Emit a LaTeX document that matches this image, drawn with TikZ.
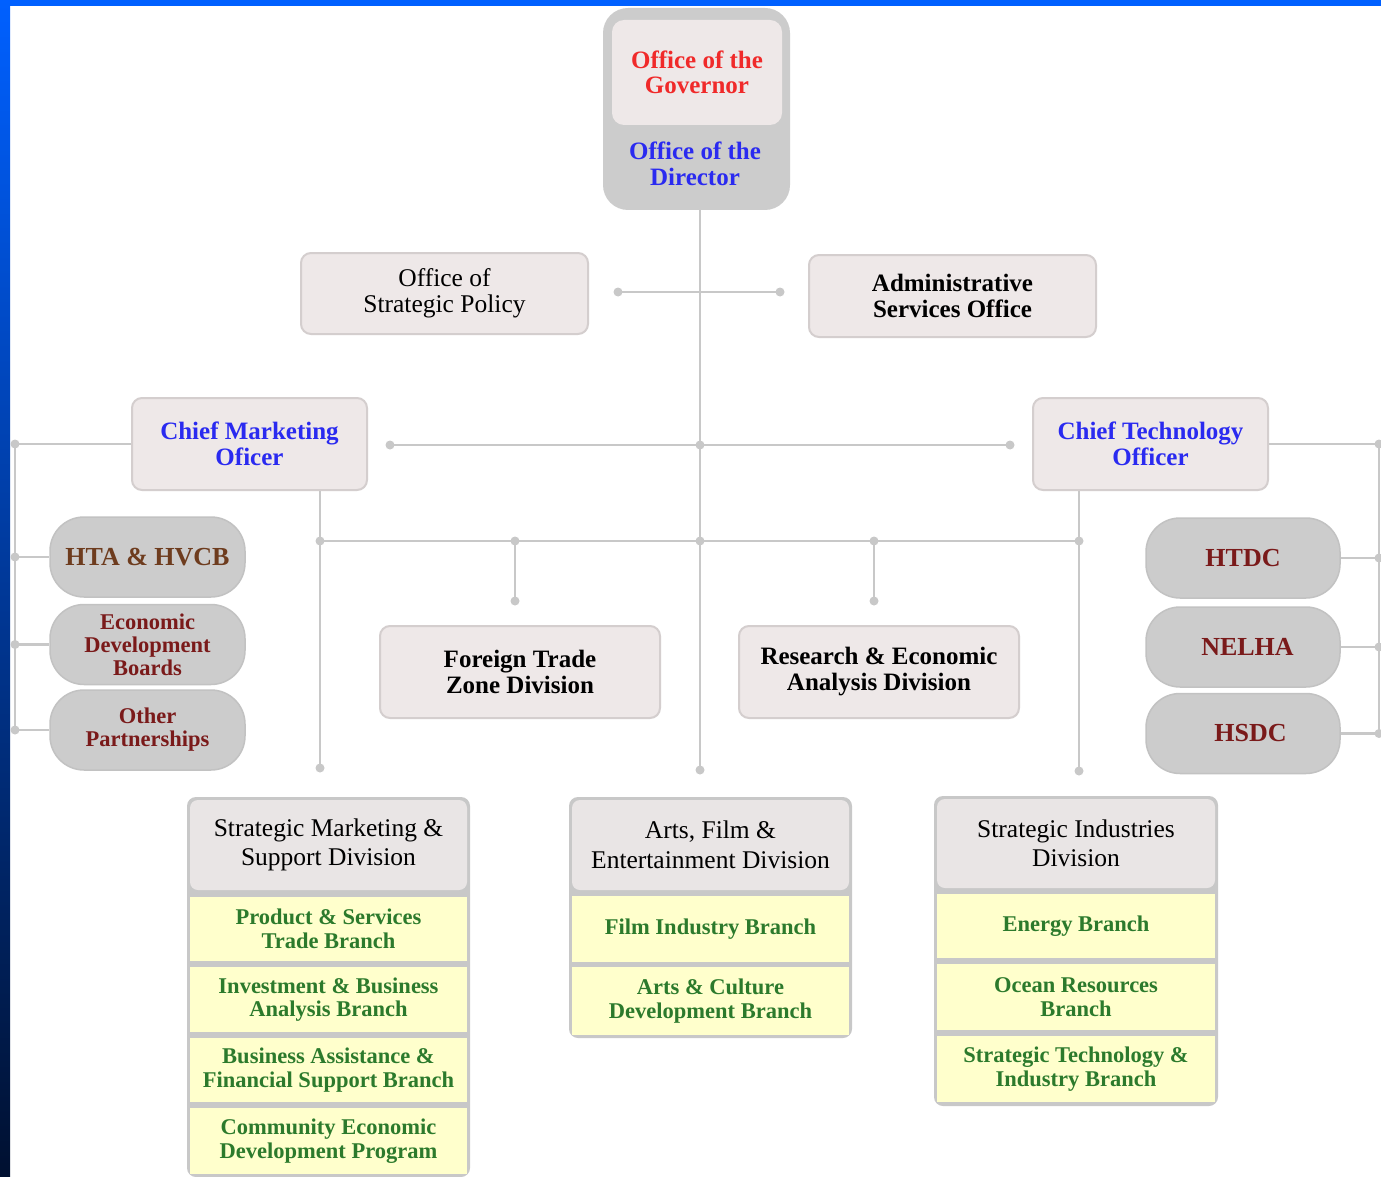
\documentclass[tikz,border=0pt]{standalone}
\usepackage{fontspec}
\setmainfont{Liberation Serif}
\definecolor{topblue}{HTML}{0060FF}
\definecolor{midblue}{HTML}{0038A8}
\definecolor{navyend}{HTML}{001030}
\definecolor{linegray}{HTML}{C8C8C8}
\definecolor{boxfill}{HTML}{EEE8E8}
\definecolor{boxdraw}{HTML}{D4CECE}
\definecolor{pillfill}{HTML}{CCCCCC}
\definecolor{pilldraw}{HTML}{C2C2C2}
\definecolor{rowfill}{HTML}{FFFFCC}
\definecolor{hdrfill}{HTML}{E9E5E5}
\definecolor{govred}{HTML}{F02A2A}
\definecolor{dirblue}{HTML}{2A2AF0}
\definecolor{pillred}{HTML}{7A1A1A}
\definecolor{pillbrown}{HTML}{6E3C1E}
\definecolor{rowgreen}{HTML}{2C7A2C}
\newcommand\fTop{\fontsize{25}{25.5}\selectfont\bfseries}
\newcommand\fMid{\fontsize{25}{26}\selectfont}
\newcommand\fPill{\fontsize{26}{27}\selectfont\bfseries}
\newcommand\fPillS{\fontsize{22.5}{23}\selectfont\bfseries}
\newcommand\fHdr{\fontsize{25.5}{29.5}\selectfont}
\newcommand\fRow{\fontsize{22.5}{23.5}\selectfont\bfseries}
\tikzset{
  lbox/.style={draw=boxdraw, line width=2pt, fill=boxfill, rounded corners=10pt, align=center, inner sep=0pt},
  pill/.style={draw=pilldraw, line width=1.5pt, fill=pillfill, rounded corners=34pt, align=center, inner sep=0pt, minimum height=80pt},
  frame/.style={fill=linegray, rounded corners=9pt, inner sep=0pt},
  hdr/.style={fill=hdrfill, rounded corners=8pt, align=center, inner sep=0pt, font=\fHdr, minimum height=90pt},
  row/.style={fill=rowfill, align=center, inner sep=0pt, font=\fRow, text=rowgreen},
  conn/.style={draw=linegray, line width=2.5pt},
  jdot/.style={fill=linegray}
}
\begin{document}
\begin{tikzpicture}[x=1pt, y=-1pt]
\useasboundingbox (0,0) rectangle (1381,1177);
\fill[white] (0,0) rectangle (1381,1177);
\fill[topblue] (0,0) rectangle (1381,6);
\shade[top color=topblue, middle color=midblue, bottom color=navyend] (0,0) rectangle (10,1177);

% top office
\node[fill=pillfill, rounded corners=25pt, minimum width=187pt, minimum height=202pt, inner sep=0pt] (topbox) at (696.5,109) {};
\node[fill=boxfill, rounded corners=12pt, minimum width=170pt, minimum height=105pt, inner sep=0pt, align=center, text=govred, font=\fTop] (gov) at (697,72.5) {Office of the\\Governor};
\node[align=center, text=dirblue, font=\fTop, inner sep=0pt] (dir) at (695,164) {Office of the\\Director};

% second level
\node[lbox, minimum width=287pt, minimum height=81pt, font=\fontsize{25.5}{26}\selectfont] (osp) at (444.5,293.5) {Office of\\Strategic Policy};
\node[lbox, minimum width=287pt, minimum height=82pt, font=\fMid\bfseries] (aso) at (952.5,296) {Administrative\\Services Office};

\node[lbox, minimum width=235pt, minimum height=92pt, font=\fTop, text=dirblue] (cmo) at (249.5,444) {Chief Marketing\\Oficer};
\node[lbox, minimum width=235pt, minimum height=92pt, font=\fTop, text=dirblue] (cto) at (1150.5,444) {Chief Technology\\Officer};

% pills
\node[pill, minimum width=195pt, font=\fPill, text=pillbrown] (hta) at (147.5,557) {HTA \& HVCB};
\node[pill, minimum width=195pt, font=\fPillS, text=pillred] (edb) at (147.5,644.5) {Economic\\Development\\Boards};
\node[pill, minimum width=195pt, font=\fPillS, text=pillred] (oth) at (147.5,730) {Other\\Partnerships};
\node[pill, minimum width=194pt, font=\fPill, text=pillred] (htdc) at (1243,558) {HTDC};
\node[pill, minimum width=194pt, font=\fPill, text=pillred] (nelha) at (1243,647) {\hspace*{9pt}NELHA};
\node[pill, minimum width=194pt, font=\fPill, text=pillred] (hsdc) at (1243,733.5) {\hspace*{15pt}HSDC};

% middle divisions
\node[lbox, minimum width=280pt, minimum height=92pt, font=\fMid\bfseries] (ftz) at (520,672) {Foreign Trade\\Zone Division};
\node[lbox, minimum width=280pt, minimum height=92pt, font=\fMid\bfseries] (rea) at (879,672) {Research \& Economic\\Analysis Division};

% stack 1
\node[frame, minimum width=283pt, minimum height=380pt] (s1f) at (328.5,987) {};
\node[hdr, minimum width=277pt] (s1h) at (328.5,845) {Strategic Marketing \&\\Support Division};
\node[row, minimum width=277pt, minimum height=64pt] (s1a) at (328.5,929) {Product \& Services\\Trade Branch};
\node[row, minimum width=277pt, minimum height=65pt] (s1b) at (328.5,999.5) {Investment \& Business\\Analysis Branch};
\node[row, minimum width=277pt, minimum height=64pt] (s1c) at (328.5,1070) {Business Assistance \&\\Financial Support Branch};
\node[row, minimum width=277pt, minimum height=66pt] (s1d) at (328.5,1141) {Community Economic\\Development Program};

% stack 2
\node[frame, minimum width=283pt, minimum height=241pt] (s2f) at (710.5,917.5) {};
\node[hdr, minimum width=277pt] (s2h) at (710.5,845) {Arts, Film \&\\Entertainment Division};
\node[row, minimum width=277pt, minimum height=66pt] (s2a) at (710.5,929) {Film Industry Branch};
\node[row, minimum width=277pt, minimum height=68pt] (s2b) at (710.5,1001) {Arts \& Culture\\Development Branch};

% stack 3
\node[frame, minimum width=284pt, minimum height=310pt] (s3f) at (1076,951) {};
\node[hdr, minimum width=278pt, minimum height=89pt] (s3h) at (1076,843.5) {Strategic Industries\\Division};
\node[row, minimum width=278pt, minimum height=64pt] (s3a) at (1076,926) {Energy Branch};
\node[row, minimum width=278pt, minimum height=66pt] (s3b) at (1076,997) {Ocean Resources\\Branch};
\node[row, minimum width=278pt, minimum height=66pt] (s3c) at (1076,1069) {Strategic Technology \&\\Industry Branch};

% coordinates
\coordinate (t770) at (700,770);
\coordinate (tj1) at (700,445);
\coordinate (tj2) at (700,541);
\coordinate (s1) at (618,292);
\coordinate (s2) at (780,292);
\coordinate (c1) at (390,445);
\coordinate (c3) at (1010,445);
\coordinate (l1) at (15,444);
\coordinate (l4) at (15,730);
\coordinate (r1) at (1379,444);
\coordinate (r4) at (1379,733.5);
\coordinate (m1) at (320,768);
\coordinate (h1) at (320,541);
\coordinate (h5) at (1079,541);
\coordinate (f1) at (515,601);
\coordinate (g1) at (874,601);
\coordinate (m3) at (1079,771);

% connectors
\draw[conn] (topbox.south -| t770) -- (t770);
\draw[conn] (s1) -- (s2);
\draw[conn] (c1) -- (c3);
\draw[conn] (cmo.west) -- (l1) -- (l4);
\draw[conn] (hta.west -| l1) -- (hta.west);
\draw[conn] (edb.west -| l1) -- (edb.west);
\draw[conn] (oth.west -| l1) -- (oth.west);
\draw[conn] (cto.east) -- (r1) -- (r4);
\draw[conn] (htdc.east) -- (htdc.east -| r1);
\draw[conn] (nelha.east) -- (nelha.east -| r1);
\draw[conn] (hsdc.east) -- (hsdc.east -| r1);
\draw[conn] (cmo.south -| m1) -- (m1);
\draw[conn] (h1) -- (h5);
\draw[conn] (f1 |- h1) -- (f1);
\draw[conn] (g1 |- h1) -- (g1);
\draw[conn] (cto.south -| m3) -- (m3);

% junction dots
\foreach \p in {t770,tj1,tj2,s1,s2,c1,c3,l1,r1,m1,h1,h5,f1,g1,m3}
  \fill[jdot] (\p) circle (4.5);
\foreach \n in {hta,edb,oth} \fill[jdot] (\n.west -| l1) circle (4.5);
\foreach \n in {htdc,nelha,hsdc} \fill[jdot] (\n.east -| r1) circle (4.5);
\fill[jdot] (f1 |- h1) circle (4.5);
\fill[jdot] (g1 |- h1) circle (4.5);
\end{tikzpicture}
\end{document}
